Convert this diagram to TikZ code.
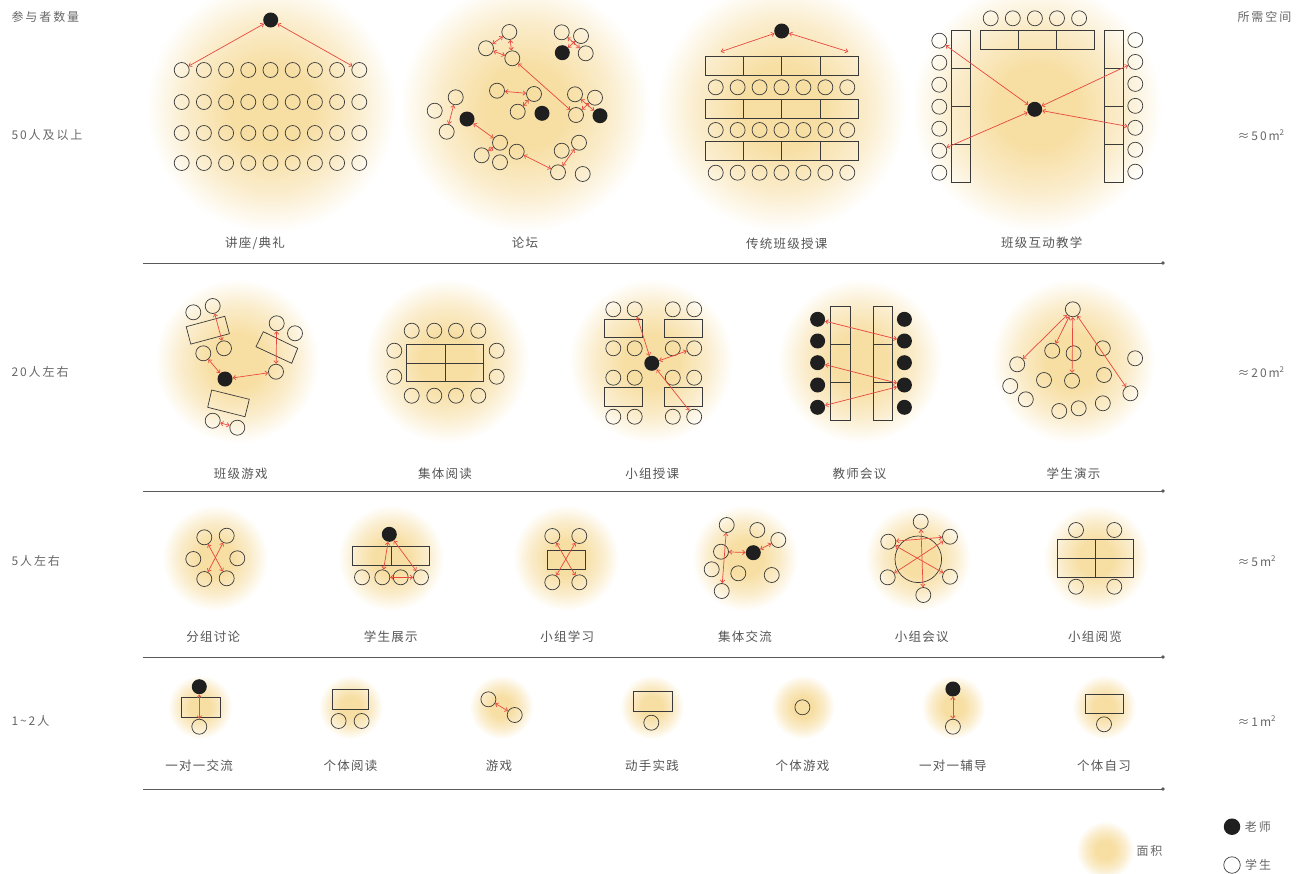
\documentclass[tikz,border=0pt]{standalone}
\usepackage{fontspec}
\setmainfont{Noto Sans CJK SC}
\newfontfamily\capfont[LetterSpace=10]{Noto Sans CJK SC}
\newfontfamily\sidefont[LetterSpace=16]{Noto Sans CJK SC}
\usepackage{tikz}
\usetikzlibrary{arrows.meta,positioning}
\definecolor{ink}{HTML}{3A3A3A}
\definecolor{dark}{HTML}{1F1F1F}
\definecolor{muted}{HTML}{555555}
\definecolor{soft}{HTML}{666666}
\definecolor{rule}{HTML}{5A5A5A}
\definecolor{arrowred}{HTML}{E8483E}
\definecolor{glowc}{HTML}{F7DEA2}
\pgfdeclareradialshading{glow}{\pgfpoint{0bp}{0bp}}{color(0bp)=(glowc); color(8bp)=(glowc); color(17bp)=(glowc!55!white); color(25bp)=(white); color(50bp)=(white)}
\tikzset{
  stu/.style={circle,draw=ink,line width=0.7pt,minimum size=15pt,inner sep=0pt},
  tch/.style={circle,fill=dark,minimum size=15pt,inner sep=0pt},
  desk/.style={draw=ink,line width=0.7pt},
  link/.style={draw=arrowred,line width=0.7pt,{Straight Barb[length=2.6pt,width=4.4pt]}-{Straight Barb[length=2.6pt,width=4.4pt]}},
  caption/.style={text=muted,font=\capfont\fontsize{12.5}{14}\selectfont},
  side/.style={anchor=west,text=soft,font=\sidefont\fontsize{12}{14}\selectfont},
  sep/.style={draw=rule,line width=0.8pt}
}

\begin{document}
\begin{tikzpicture}[x=1pt,y=-1pt]
  \useasboundingbox (0,0) rectangle (1304,873);
  % glows
  \foreach \x in {271,525,782,1037}
    \shade[shading=glow] (\x,107) circle (125pt);
  \foreach \x in {237,447,651,860,1073}
    \shade[shading=glow] (\x,361) circle (82pt);
  \foreach \x in {215,391,566,745,918,1096}
    \shade[shading=glow] (\x,558) circle (53pt);
  \foreach \x in {200,350.7,501.3,652,802.7,953.3,1104}
    \shade[shading=glow] (\x,707) circle (32pt);
  \shade[shading=glow] (1105,850) circle (29pt);

  % separators
  \foreach \y in {263,491,657,789} {
    \draw[sep] (143,\y) -- (1163,\y);
    \fill[rule] (1163,\y) circle (1.8pt);
  }

  % side labels
  \node[side] (hdl) at (8,17) {参与者数量};
  \node[side] (n50) at (8,135) {50人及以上};
  \node[side] (n20) at (8,372) {20人左右};
  \node[side] (n5) at (8,561) {5人左右};
  \node[side] (n1) at (8,721) {1\textasciitilde 2人};
  \node[side] (hdr) at (1234,17) {所需空间};
  \node[side] (a50) at (1234,135) {≈50m\textsuperscript{2}};
  \node[side] (a20) at (1234,372) {≈20m\textsuperscript{2}};
  \node[side] (a5) at (1234,561) {≈5m\textsuperscript{2}};
  \node[side] (a1) at (1234,721) {≈1m\textsuperscript{2}};

  % lecture
  \node[tch] (Lt) at (270.7,20) {};
  \foreach \r/\y in {1/70,2/102,3/133,4/163}
    \foreach \c in {1,...,9}
      \node[stu] (L\r-\c) at ({159.5+22.2*\c},\y) {};
  \draw[link] (Lt) -- (L1-1);
  \draw[link] (Lt) -- (L1-9);
  \node[caption] (capL) at (255,243) {讲座/典礼};

  % forum
  \node[stu] (F1) at (509.3,32) {};
  \node[stu] (F2) at (486,48.3) {};
  \node[stu] (F3) at (512.3,58.3) {};
  \node[stu] (F4) at (561.7,32.3) {};
  \node[stu] (F5) at (581,36) {};
  \node[tch] (Ft1) at (562.3,52.7) {};
  \node[stu] (F6) at (585.7,53.3) {};
  \node[stu] (F7) at (497,90.7) {};
  \node[stu] (F8) at (534,94) {};
  \node[stu] (F9) at (517.7,111.7) {};
  \node[tch] (Ft2) at (542,113.3) {};
  \node[stu] (F10) at (575,94.3) {};
  \node[stu] (F11) at (595,97.7) {};
  \node[stu] (F12) at (576,115) {};
  \node[tch] (Ft3) at (600,115.7) {};
  \node[stu] (F13) at (455.7,97.3) {};
  \node[stu] (F14) at (434.7,110.7) {};
  \node[stu] (F15) at (446.7,131.7) {};
  \node[tch] (Ft4) at (467,119) {};
  \node[stu] (F16) at (500,142.7) {};
  \node[stu] (F17) at (481.7,155.3) {};
  \node[stu] (F18) at (500,162.3) {};
  \node[stu] (F19) at (516.7,151.7) {};
  \node[stu] (F20) at (561.7,150.7) {};
  \node[stu] (F21) at (579,142.7) {};
  \node[stu] (F22) at (558,172.3) {};
  \node[stu] (F23) at (582.7,174) {};
  \foreach \a/\b in {F2/F1,F2/F3,F1/F3,F4/F6,F5/Ft1,F3/F12,F7/F8,F9/F8,F10/Ft3,F12/F11,F13/F15,Ft4/F16,F17/F16,F19/F22,F22/F21}
    \draw[link] (\a) -- (\b);
  \node[caption] (capF) at (525,243) {论坛};

  % traditional class
  \node[tch] (Tt) at (781.7,31) {};
  \coordinate (Ta) at (720.7,51.7);
  \coordinate (Tb) at (848.3,51.7);
  \draw[link] (Tt) -- (Ta);
  \draw[link] (Tt) -- (Tb);
  \foreach \y in {56,99,141.7}
    \foreach \i in {0,...,3}
      \draw[desk] ({705.3+38.25*\i},\y) rectangle +(38.25,19);
  \foreach \r/\y in {1/87.3,2/130,3/172.7}
    \foreach \c in {0,...,6}
      \node[stu] (T\r-\c) at ({715.7+21.93*\c},\y) {};
  \node[caption] (capT) at (786.7,244) {传统班级授课};

  % interactive class
  \foreach \c in {0,...,4}
    \node[stu] (IT\c) at ({990.7+22.1*\c},18.3) {};
  \foreach \i in {0,1,2}
    \draw[desk] ({980+38.1*\i},30) rectangle +(38.1,19);
  \foreach \i in {0,...,3} {
    \draw[desk] (951.7,{30.7+38*\i}) rectangle +(19,38);
    \draw[desk] (1104,{30+38.2*\i}) rectangle +(19.3,38.2);
  }
  \foreach \c in {1,...,7} {
    \node[stu] (IL\c) at (939.3,{18.7+22*\c}) {};
    \node[stu] (IR\c) at (1135.3,{18.05+21.95*\c}) {};
  }
  \node[tch] (It) at (1034.7,109.3) {};
  \foreach \b in {IL1,IL6,IR2,IR5}
    \draw[link] (It) -- (\b);
  \node[caption] (capI) at (1041.7,243) {班级互动教学};

  % class game
  \node[stu] (G1) at (193.3,312.3) {};
  \node[stu] (G2) at (212.7,306) {};
  \draw[desk] (186.2,326.7) -- (224.8,316.3) -- (229.4,333.7) -- (190.8,344.1) -- cycle;
  \node[stu] (G3) at (224,348.3) {};
  \node[stu] (G4) at (203.3,353.3) {};
  \node[tch] (Gt) at (225,379) {};
  \node[stu] (G5) at (276.7,323.3) {};
  \node[stu] (G6) at (295,333.3) {};
  \draw[desk] (263.3,331.7) -- (297.7,348.3) -- (291.7,363.3) -- (256,346.7) -- cycle;
  \node[stu] (G7) at (276,371.7) {};
  \draw[desk] (211.7,390) -- (249.3,399.3) -- (245,416.7) -- (207.7,407.3) -- cycle;
  \node[stu] (G8) at (212.7,420.7) {};
  \node[stu] (G9) at (237.3,427.7) {};
  \foreach \a/\b in {G2/G3,G4/Gt,Gt/G7,G5/G7,G8/G9}
    \draw[link] (\a) -- (\b);
  \node[caption] (capG) at (240.7,473.3) {班级游戏};

  % collective reading
  \draw[desk] (406.7,344) rectangle (483.3,381.7);
  \draw[desk] (445,344) -- (445,381.7);
  \draw[desk] (406.7,363) -- (483.3,363);
  \foreach \x [count=\c] in {411.7,434.3,456,478.3} {
    \node[stu] (RT\c) at (\x,330.7) {};
    \node[stu] (RB\c) at (\x,395.7) {};
  }
  \foreach \y [count=\c] in {350.7,376.7} {
    \node[stu] (RL\c) at (394.3,\y) {};
    \node[stu] (RR\c) at (496.7,\y) {};
  }
  \node[caption] (capR) at (445,473.3) {集体阅读};

  % group lecture
  \foreach \y [count=\r] in {309.3,348.3,377.7,416.7}
    \foreach \x [count=\c] in {613.3,634.7,672.8,694.2}
      \node[stu] (S\r-\c) at (\x,\y) {};
  \draw[desk] (604.7,319) rectangle (642.5,337.3);
  \draw[desk] (664.3,319) rectangle (702.4,337.3);
  \draw[desk] (604.7,387.3) rectangle (642.5,406.7);
  \draw[desk] (664.3,387.3) rectangle (702.4,406.7);
  \node[tch] (St) at (651.8,363.3) {};
  \foreach \b in {S1-2,S2-4,S4-4}
    \draw[link] (St) -- (\b);
  \node[caption] (capS) at (652.2,473.3) {小组授课};

  % teacher meeting
  \foreach \x in {830.4,873.2} {
    \draw[desk] (\x,306) rectangle +(19.5,114);
    \draw[desk] (\x,344) -- +(19.5,0);
    \draw[desk] (\x,382.3) -- +(19.5,0);
  }
  \foreach \y [count=\c] in {319.3,341,362.7,385,407.3} {
    \node[tch] (ML\c) at (817.6,\y) {};
    \node[tch] (MR\c) at (904.4,\y) {};
  }
  \foreach \a/\b in {ML1/MR2,ML3/MR4,ML5/MR4}
    \draw[link] (\a) -- (\b);
  \node[caption] (capM) at (859.6,473.3) {教师会议};

  % student demo
  \node[stu] (D0) at (1072.8,309.3) {};
  \foreach \x/\y [count=\c] in {1017.2/364.3,1052.2/350.7,1073.6/353.3,1102.8/348.3,1135.1/358.3,1010.2/386,1025.8/399.3,1044/380,1072/380.7,1104/375,1130.4/393.3,1059.2/411,1078.7/408.3,1102.8/403.3}
    \node[stu] (D\c) at (\x,\y) {};
  \foreach \b in {D1,D2,D9,D11}
    \draw[link] (D0) -- (\b);
  \node[caption] (capD) at (1073.6,473.3) {学生演示};

  % group discussion
  \node[stu] (A1) at (204.3,537.3) {};
  \node[stu] (A2) at (226.7,535.7) {};
  \node[stu] (A3) at (193.3,559) {};
  \node[stu] (A4) at (237.3,558.3) {};
  \node[stu] (A5) at (204.3,579) {};
  \node[stu] (A6) at (226.7,578.3) {};
  \draw[link] (A1) -- (A6);
  \draw[link] (A2) -- (A5);
  \node[caption] (capA) at (213.3,637) {分组讨论};

  % student show
  \node[tch] (Bt) at (389.3,534.3) {};
  \draw[desk] (352.7,546) rectangle (391,565.3);
  \draw[desk] (391,546) rectangle (429.3,565.3);
  \foreach \x [count=\c] in {362,382.3,400.7,421}
    \node[stu] (B\c) at (\x,577.3) {};
  \foreach \a/\b in {Bt/B2,Bt/B4,B2/B4}
    \draw[link] (\a) -- (\b);
  \node[caption] (capB) at (390.7,637) {学生展示};

  % small group study
  \draw[desk] (547.3,550) rectangle (585.7,569);
  \node[stu] (C1) at (552.3,536) {};
  \node[stu] (C2) at (579.3,536) {};
  \node[stu] (C3) at (552.3,582.3) {};
  \node[stu] (C4) at (579.3,582.3) {};
  \draw[link] (C1) -- (C4);
  \draw[link] (C2) -- (C3);
  \node[caption] (capC) at (567.3,637) {小组学习};

  % collective exchange
  \foreach \x/\y [count=\c] in {726.7/525,757.3/530,778.3/540,721/551.7,711.7/569.3,738.3/573.3,771.7/575,721.7/591}
    \node[stu] (E\c) at (\x,\y) {};
  \node[tch] (Et) at (753.3,552.7) {};
  \foreach \a/\b in {E1/E8,E4/Et,Et/E3}
    \draw[link] (\a) -- (\b);
  \node[caption] (capE) at (745,637) {集体交流};

  % group meeting
  \node[stu,minimum size=46.6pt] (Hc) at (918.3,559.3) {};
  \foreach \x/\y [count=\c] in {920.7/521.7,888.3/541.7,950/536.7,887.7/577.3,950/576.7,923.3/595}
    \node[stu] (H\c) at (\x,\y) {};
  \foreach \a/\b in {H1/H6,H2/H3,H2/H5,H4/H3}
    \draw[link] (\a) -- (\b);
  \node[caption] (capH) at (921.7,637) {小组会议};

  % group browsing
  \draw[desk] (1057.3,539.3) rectangle (1133.3,577.3);
  \draw[desk] (1095.3,539.3) -- (1095.3,577.3);
  \draw[desk] (1057.3,558.3) -- (1133.3,558.3);
  \foreach \x [count=\c] in {1076,1114.3} {
    \node[stu] (KT\c) at (\x,530) {};
    \node[stu] (KB\c) at (\x,586.7) {};
  }
  \node[caption] (capK) at (1095,637) {小组阅览};

  % one to one
  \node[tch] (Qt) at (199.3,686.7) {};
  \draw[desk] (180.9,697.3) rectangle (220.3,717.3);
  \node[stu] (Q1) at (199.3,726.7) {};
  \draw[link] (Qt) -- (Q1);
  \node[caption] (capQ) at (199,766) {一对一交流};

  % individual reading
  \draw[desk] (332,689.3) rectangle (368.8,709);
  \node[stu] (P1) at (338.6,721) {};
  \node[stu] (P2) at (361.6,721) {};
  \node[caption] (capP) at (350.5,766) {个体阅读};

  % game
  \node[stu] (W1) at (488.4,699.3) {};
  \node[stu] (W2) at (514.7,715) {};
  \draw[link] (W1) -- (W2);
  \node[caption] (capW) at (499,766) {游戏};

  % hands-on
  \draw[desk] (632.9,691.7) rectangle (672.3,711);
  \node[stu] (N1) at (651.3,722.7) {};
  \node[caption] (capN) at (652,766) {动手实践};

  % individual game
  \node[stu] (V1) at (802.4,707.3) {};
  \node[caption] (capV) at (802.4,766) {个体游戏};

  % tutoring
  \node[tch] (Ut) at (952.9,689) {};
  \node[stu] (U1) at (952.9,726.7) {};
  \draw[link] (Ut) -- (U1);
  \node[caption] (capU) at (952.9,766) {一对一辅导};

  % self study
  \draw[desk] (1085.6,694.3) rectangle (1123,713.3);
  \node[stu] (Y1) at (1104,724.3) {};
  \node[caption] (capY) at (1104,766) {个体自习};

  % legend
  \node[side] (kArea) at (1133,851) {面积};
  \node[tch,minimum size=16.5pt] (kT) at (1232,826.7) {};
  \node[stu,minimum size=16.5pt] (kS) at (1232,865) {};
  \node[side,right=1pt of kT] (kTl) {老师};
  \node[side,right=1pt of kS] (kSl) {学生};
\end{tikzpicture}
\end{document}
